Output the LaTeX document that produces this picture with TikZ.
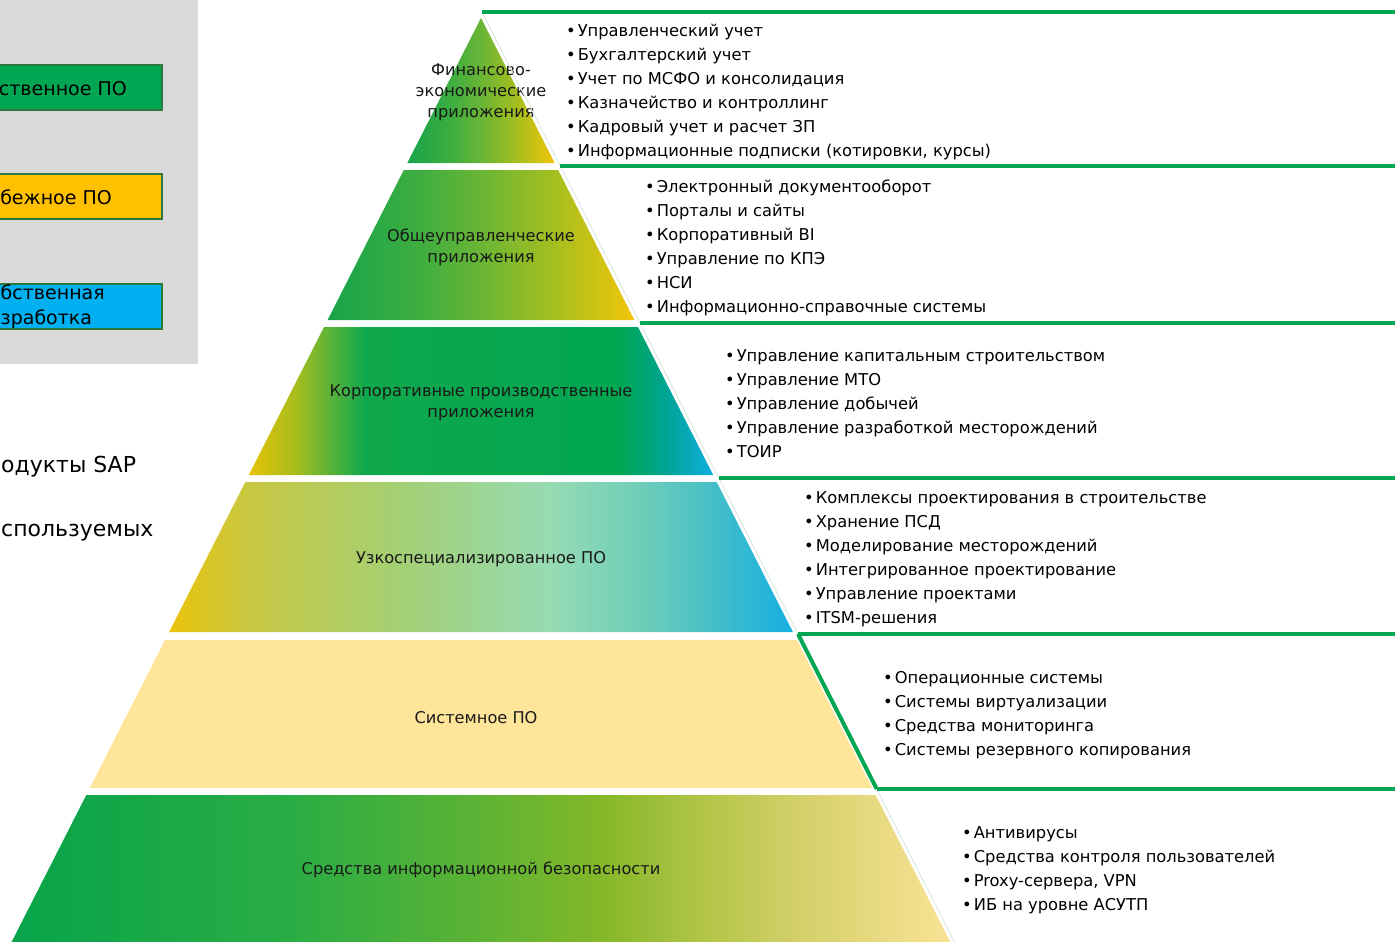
\documentclass[tikz,border=0pt]{standalone}
\usepackage{fontspec}
\setmainfont{DejaVu Sans}
\usetikzlibrary{positioning}

\definecolor{sapgreen}{HTML}{00A651}
\definecolor{legborder}{HTML}{2B7A3B}
\definecolor{panelgray}{HTML}{D9D9D9}
\definecolor{legyellow}{HTML}{FFC000}
\definecolor{legcyan}{HTML}{00B0F0}
\definecolor{sysyellow}{HTML}{FEE599}
\definecolor{edgefaint}{HTML}{DCEBDD}
% gradient stops
\definecolor{fA}{HTML}{16A44A}\definecolor{fB}{HTML}{3EAE40}\definecolor{fC}{HTML}{6AB535}
\definecolor{fD}{HTML}{A8BF1E}\definecolor{fE}{HTML}{F2C40A}
\definecolor{cA}{HTML}{E6C205}\definecolor{cB}{HTML}{A8BD1E}\definecolor{cC}{HTML}{55B23A}
\definecolor{cD}{HTML}{10A84C}\definecolor{cE}{HTML}{00A595}\definecolor{cF}{HTML}{10AEE2}
\definecolor{zA}{HTML}{EAC30C}\definecolor{zB}{HTML}{C8C843}\definecolor{zC}{HTML}{A3CF74}
\definecolor{zD}{HTML}{97DBB3}\definecolor{zE}{HTML}{70CEB8}\definecolor{zF}{HTML}{42BEC8}
\definecolor{zG}{HTML}{16AEE3}
\definecolor{sA}{HTML}{08A44B}\definecolor{sB}{HTML}{2AAD44}\definecolor{sC}{HTML}{5DB334}
\definecolor{sD}{HTML}{85B829}\definecolor{sE}{HTML}{B3C548}\definecolor{sF}{HTML}{D4D06A}
\definecolor{sG}{HTML}{EEDD88}\definecolor{sH}{HTML}{F8E394}

\pgfdeclarehorizontalshading{finshade}{100bp}{color(0bp)=(fA); color(25bp)=(fA);
  color(40bp)=(fB); color(50bp)=(fC); color(62.5bp)=(fD); color(75bp)=(fE); color(100bp)=(fE)}
\pgfdeclarehorizontalshading{corpshade}{100bp}{color(0bp)=(cA); color(25bp)=(cA);
  color(30bp)=(cB); color(34bp)=(cC); color(37.5bp)=(cD); color(65bp)=(sapgreen);
  color(70bp)=(cE); color(75bp)=(cF); color(100bp)=(cF)}
\pgfdeclarehorizontalshading{specshade}{100bp}{color(0bp)=(zA); color(25bp)=(zA);
  color(31.5bp)=(zB); color(43.5bp)=(zC); color(55.5bp)=(zD); color(62.5bp)=(zE);
  color(69bp)=(zF); color(75bp)=(zG); color(100bp)=(zG)}
\pgfdeclarehorizontalshading{secshade}{100bp}{color(0bp)=(sA); color(25bp)=(sA);
  color(40bp)=(sB); color(50bp)=(sC); color(56.5bp)=(sD); color(62bp)=(sE);
  color(67bp)=(sF); color(72.5bp)=(sG); color(75bp)=(sH); color(100bp)=(sH)}

\newcommand{\blt}{•\hspace{2pt}}

\begin{document}
\begin{tikzpicture}[x=1pt,y=-1pt,
  tierlabel/.style={font=\fontsize{16.2}{21}\selectfont, align=center, text=black!90, inner sep=0pt},
  itemlist/.style={font=\fontsize{16.3}{24}\selectfont, align=left, anchor=west, inner sep=0pt},
  legtext/.style={font=\fontsize{19}{25}\selectfont, inner sep=0pt},
  bigtext/.style={font=\fontsize{22}{28}\selectfont, inner sep=0pt, anchor=west},
  legendbox/.style={draw=legborder, line width=1.5pt},
  boxline/.style={draw=sapgreen, line width=4pt}
]
\useasboundingbox (0,0) rectangle (1395,942);
\clip (0,0) rectangle (1395,942);

% legend panel
\fill[panelgray] (0,0) rectangle (198,364);
\draw[legendbox, fill=sapgreen] (-5,65) rectangle (162,110);
\draw[legendbox, fill=legyellow] (-5,174) rectangle (162,219);
\draw[legendbox, fill=legcyan] (-5,284) rectangle (162,329);
\node[legtext, anchor=east] (own) at (127,89) {ственное ПО};
\node[legtext, anchor=east] (foreign) at (112,197) {бежное ПО};
\node[legtext, anchor=west, align=left] (inhouse) at (0.5,307) {бственная\\зработка};

\node[bigtext] (sap) at (1,467) {одукты SAP};
\node[bigtext] (used) at (1,533) {спользуемых};

% pyramid
\shade[shading=finshade] (481,18) -- (554.7,163) -- (407.3,163) -- cycle;
\shade[shading=finshade] (403.8,170) -- (558.2,170) -- (634.4,320) -- (327.6,320) -- cycle;
\shade[shading=corpshade] (324,327) -- (638,327) -- (713.2,475) -- (248.8,475) -- cycle;
\shade[shading=specshade] (245.3,482) -- (716.7,482) -- (792.9,632) -- (169.1,632) -- cycle;
\fill[sysyellow] (165,640) -- (797,640) -- (872.2,788) -- (89.8,788) -- cycle;
\shade[shading=secshade] (86.3,795) -- (875.7,795) -- (950.4,942) -- (11.6,942) -- cycle;

\node[tierlabel] (fin) at (481,92.5) {Финансово-\\экономические\\приложения};
\node[tierlabel] (gen) at (481,247.5) {Общеуправленческие\\приложения};
\node[tierlabel] (corp) at (481,402.5) {Корпоративные производственные\\приложения};
\node[tierlabel] (spec) at (481,559) {Узкоспециализированное ПО};
\node[tierlabel] (sys) at (476,717.5) {Системное ПО};
\node[tierlabel] (sec) at (481,870) {Средства информационной безопасности};

% boxes on the right
\draw[edgefaint, line width=1pt] (482,12) -- (954.4,942);
\foreach \yy/\xx in {12/482,166/560.2,323/640,478/718.7,634/798,789/876.7}
  \draw[boxline] (\xx,\yy) -- (1395,\yy);
\draw[boxline] (798,634) -- (876.7,789);

\node[itemlist] (finlist) at (566,92) {\blt Управленческий учет\\\blt Бухгалтерский учет\\\blt Учет по МСФО и консолидация\\\blt Казначейство и контроллинг\\\blt Кадровый учет и расчет ЗП\\\blt Информационные подписки (котировки, курсы)};
\node[itemlist] (genlist) at (645,248) {\blt Электронный документооборот\\\blt Порталы и сайты\\\blt Корпоративный BI\\\blt Управление по КПЭ\\\blt НСИ\\\blt Информационно-справочные системы};
\node[itemlist] (corplist) at (725,403.5) {\blt Управление капитальным строительством\\\blt Управление МТО\\\blt Управление добычей\\\blt Управление разработкой месторождений\\\blt ТОИР};
\node[itemlist] (speclist) at (804,559) {\blt Комплексы проектирования в строительстве\\\blt Хранение ПСД\\\blt Моделирование месторождений\\\blt Интегрированное проектирование\\\blt Управление проектами\\\blt ITSM-решения};
\node[itemlist] (syslist) at (883,715) {\blt Операционные системы\\\blt Системы виртуализации\\\blt Средства мониторинга\\\blt Системы резервного копирования};
\node[itemlist] (seclist) at (962,870.5) {\blt Антивирусы\\\blt Средства контроля пользователей\\\blt Proxy-сервера, VPN\\\blt ИБ на уровне АСУТП};

\end{tikzpicture}
\end{document}
